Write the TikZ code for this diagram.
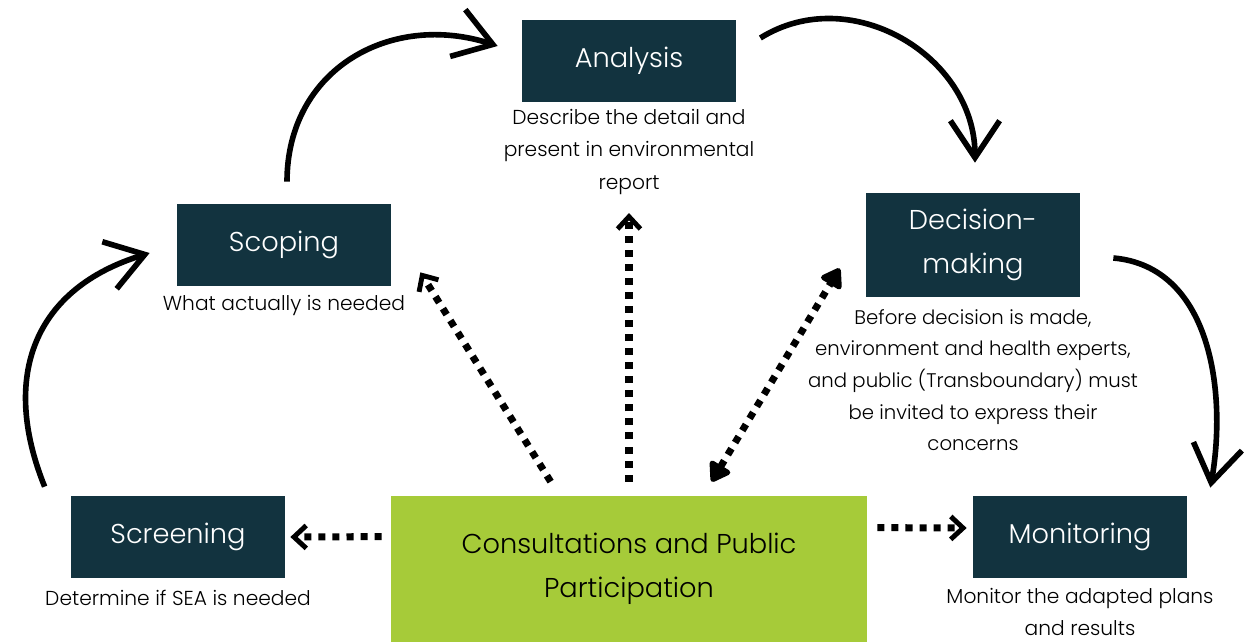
\documentclass[tikz,border=0pt]{standalone}
\usepackage{fontspec}
\setmainfont{Poppins}[UprightFont=* Light]
\usepackage{xcolor}
\usepackage{tikz}
\usetikzlibrary{arrows.meta}
\definecolor{deepteal}{RGB}{18,51,63}
\definecolor{leafgreen}{RGB}{166,203,57}

\begin{document}
\begin{tikzpicture}[x=0.2mm, y=-0.2mm,
    stage/.style={fill=deepteal, text=white, align=center, inner sep=0pt,
        minimum width=42.8mm, minimum height=16.4mm,
        font=\fontsize{15.5}{25}\selectfont},
    note/.style={align=center, inner sep=0pt, font=\fontsize{11.5}{18.5}\selectfont},
    flow/.style={line width=3.2pt, -{Straight Barb[length=21pt,width=28pt]}},
    dots/.style={line width=4pt, dash pattern=on 4pt off 4pt},
    chev/.style={-{Straight Barb[length=7pt,width=13pt,line width=2.8pt]}},
    both/.style={{Triangle[round,length=12pt,width=15pt]}-{Triangle[round,length=12pt,width=15pt]}}]
    \useasboundingbox (0,0) rectangle (1250,642);

    % Stages
    \node[stage] (analysis) at (629,61) {Analysis};
    \node[stage] (scoping) at (284,245) {Scoping};
    \node[stage, minimum height=20.8mm] (decision) at (973,245) {Decision-\\making};
    \node[stage] (screening) at (178,537) {Screening};
    \node[stage] (monitoring) at (1080,537) {Monitoring};

    % Consultation box
    \node[fill=leafgreen, align=center, inner sep=0pt, minimum width=95.2mm, minimum height=29.2mm,
        font=\fontsize{15.5}{25}\selectfont] (consult) at (629,569) {Consultations and Public\\Participation};

    % Notes under the stages
    \node[note] (analysisnote) at (629,152) {Describe the detail and\\present in environmental\\report};
    \node[note] (scopingnote) at (284,305) {What actually is needed};
    \node[note, font=\fontsize{11.2}{18}\selectfont] (decisionnote) at (973,380)
        {Before decision is made,\\environment and health experts,\\and public (Transboundary) must\\be invited to express their\\concerns};
    \node[note] (screeningnote) at (178,598) {Determine if SEA is needed};
    \node[note] (monitoringnote) at (1080,612) {Monitor the adapted plans\\and results};

    % Main cycle
    \draw[flow] ([shift={(-26,-9)}]screening.north west) to[out=112,in=197,looseness=1.2] ([shift={(-27,8)}]scoping.west);
    \draw[flow] ([shift={(3,-22)}]scoping.north) to[out=90,in=162,looseness=1.15] ([shift={(-24,-15)}]analysis.west);
    \draw[flow] ([shift={(24,-23)}]analysis.east) to[out=32,in=90,looseness=1.1] ([shift={(2,-30)}]decision.north);
    \draw[flow] ([shift={(33,13)}]decision.east) to[out=-5,in=80] ([shift={(23,-8)}]monitoring.north east);

    % Consultation links
    \draw[dots, chev] ([shift={(160,-14)}]consult.north west) -- ([shift={(29,-14)}]scoping.south east);
    \draw[dots, chev] ([shift={(0,-14)}]consult.north) -- ([shift={(0,18)}]analysisnote.south);
    \draw[dots, both] ([shift={(321,-14)}]consult.north west) -- ([shift={(-26,-29)}]decision.south west);
    \draw[dots, chev] ([shift={(-9,41)}]consult.north west) -- ([shift={(5,0)}]screening.east);
    \draw[dots, chev] ([shift={(10,32)}]consult.north east) -- ([shift={(-6,-9)}]monitoring.west);
\end{tikzpicture}
\end{document}
